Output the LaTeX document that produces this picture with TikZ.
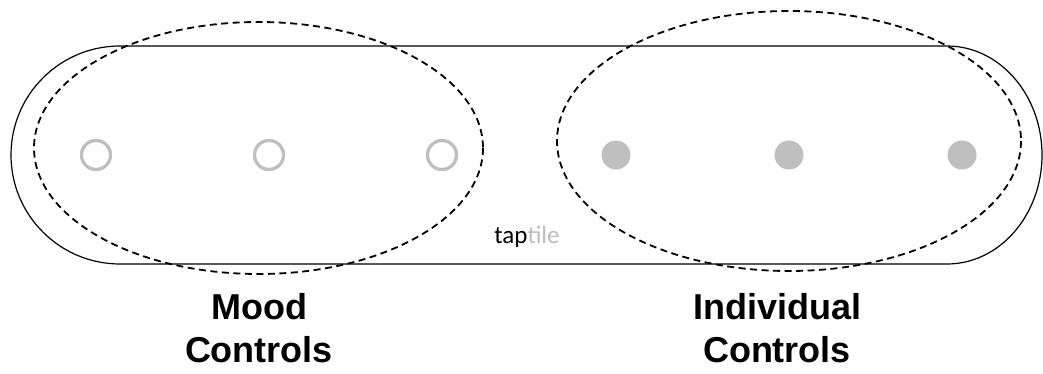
\documentclass[tikz,border=0pt]{standalone}
\usepackage{fontspec}
\setmainfont{Liberation Sans}
\newfontfamily\calibrifont{Carlito}
\definecolor{dotgray}{HTML}{BFBFBF}
\begin{document}
\begin{tikzpicture}[x=1pt,y=-1pt,
  outline/.style={draw=black,line width=1.2pt},
  zone/.style={draw=black,line width=1.8pt,dash pattern=on 7pt off 4.5pt},
  ring/.style={circle,draw=dotgray,line width=3.3pt,minimum size=29pt,inner sep=0pt},
  dot/.style={circle,fill=dotgray,minimum size=29pt,inner sep=0pt},
  label/.style={anchor=base,font=\bfseries\fontsize{36}{43}\selectfont,inner sep=0pt}]
\useasboundingbox (0,0) rectangle (1043,374);
% device outline
\draw[outline] (120,46) -- (947,46)
  arc[start angle=-90,end angle=90,x radius=95,y radius=109]
  -- (120,264)
  arc[start angle=90,end angle=270,x radius=109,y radius=109] -- cycle;
% controls
\node[ring] (m1) at (96,155) {};
\node[ring] (m2) at (269,155) {};
\node[ring] (m3) at (442,155) {};
\node[dot] (i1) at (616,155) {};
\node[dot] (i2) at (789,155) {};
\node[dot] (i3) at (962,155) {};
% brand
\node[anchor=base,inner sep=0pt,font=\calibrifont\fontsize{25}{30}\selectfont] (brand) at (527,243) {tap\textcolor{dotgray}{tile}};
% dashed zones
\draw[zone] (258.5,148) ellipse[x radius=224.5,y radius=126];
\draw[zone] (789,141) ellipse[x radius=232,y radius=130];
% labels
\node[label] (mood1) at (259,319) {Mood};
\node[label] (mood2) at (259,362) {Controls};
\node[label] (ind1) at (777,319) {Individual};
\node[label] (ind2) at (777,362) {Controls};
\end{tikzpicture}
\end{document}
